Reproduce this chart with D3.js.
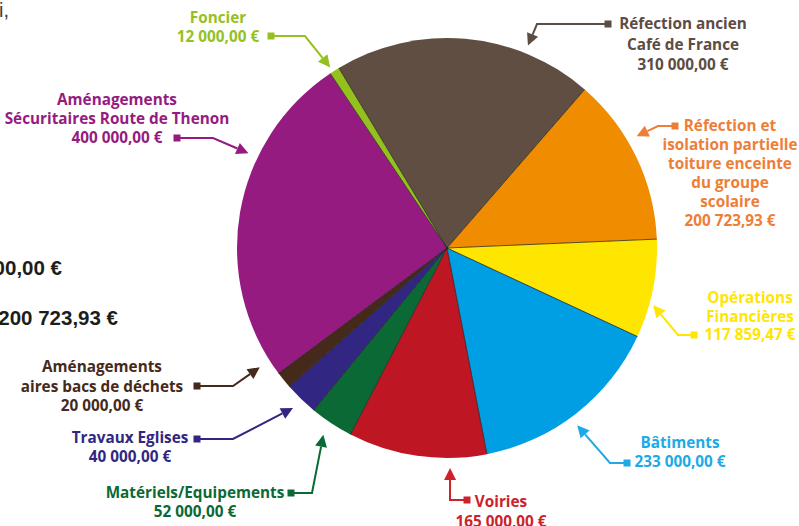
<!DOCTYPE html>
<meta charset="utf-8">
<style>
  body { margin: 0; background: #fff; }
  .lbl { font-family: "Open Sans", Lato, sans-serif; font-weight: 700; font-size: 15.3px; }
  .side { font-family: "Liberation Sans", Arial, sans-serif; font-weight: 700; font-size: 20.5px; fill: #1d1d1b; }
</style>
<script src="https://d3js.org/d3.v7.min.js"></script>
<div id="chart"></div>
<script>

  // data
  const categories = ["Réfection ancien Café de France", "Réfection et isolation partielle toiture enceinte du groupe scolaire",
    "Opérations Financières", "Bâtiments", "Voiries", "Matériels/Equipements", "Travaux Eglises",
    "Aménagements aires bacs de déchets", "Aménagements Sécuritaires Route de Thenon", "Foncier"];
  const amounts = [310000, 200723.93, 117859.47, 233000, 165000, 52000, 40000, 20000, 400000, 12000];
  const labelLines = [
    ["Réfection ancien", "Café de France"],
    ["Réfection et", "isolation partielle", "toiture enceinte", "du groupe", "scolaire"],
    ["Opérations", "Financières"],
    ["Bâtiments"],
    ["Voiries"],
    ["Matériels/Equipements"],
    ["Travaux Eglises"],
    ["Aménagements", "aires bacs de déchets"],
    ["Aménagements", "Sécuritaires Route de Thenon"],
    ["Foncier"]
  ];
  const sliceColors = ["#604e42", "#f08c00", "#ffe600", "#009fe3", "#be1622", "#0a6934", "#312783", "#452a1b", "#951b81", "#95c11f"];
  const textColors  = ["#5d4c42", "#ee7e37", "#ffe600", "#1daae6", "#cc2229", "#0a6934", "#312783", "#452a1b", "#951b81", "#95c11f"];

  const width = 799, height = 526;
  const cx = 447, cy = 248, R = 210;

  // callout layout (tip given as angle in degrees + distance from centre)
  const callouts = [
    {tipA: 21.8,  tipR: 218, elbow: [537, 24],  sq: [608, 24],  tx: 683, ty: 29,  lh: 20.5},
    {tipA: 59.5,  tipR: 220, elbow: [658, 126], sq: [675, 126], tx: 730, ty: 131, lh: 19},
    {tipA: 105.5, tipR: 214, elbow: [678, 335], sq: [694, 335], tx: 750, ty: 303, lh: 18.5},
    {tipA: 143.7, tipR: 220, elbow: [610, 463], sq: [627, 463], tx: 680, ty: 448, lh: 19},
    {tipA: 179.2, tipR: 220, elbow: [450, 500], sq: [467, 500], tx: 501, ty: 507, lh: 20},
    {tipA: 213.5, tipR: 224, elbow: [312, 493], sq: [291, 493], tx: 195, ty: 498, lh: 19},
    {tipA: 223.9, tipR: 222, elbow: [233, 439], sq: [197, 439], tx: 130, ty: 443, lh: 18.5},
    {tipA: 237.5, tipR: 222, elbow: [233, 386], sq: [197, 386], tx: 102, ty: 372, lh: 19.5},
    {tipA: 295.5, tipR: 220, elbow: [213, 138], sq: [177, 138], tx: 117, ty: 105, lh: 19},
    {tipA: -32.9, tipR: 215, elbow: [305, 36],  sq: [271, 36],  tx: 218, ty: 23,  lh: 19}
  ];

  const fr = d3.formatLocale({decimal: ",", thousands: "\u00a0", grouping: [3], currency: ["", ""]});
  const money = v => fr.format(",.2f")(v) + " €";

  const svg = d3.select("#chart").append("svg")
      .attr("width", width)
      .attr("height", height);

  // cut-off text at the left border
  svg.append("text").attr("x", -1).attr("y", 17)
      .style("font-family", "'Liberation Sans', Arial, sans-serif").style("font-size", "20px")
      .attr("fill", "#3c3c3b").text("i,");
  svg.append("text").attr("class", "side").attr("text-anchor", "end").attr("x", 62).attr("y", 275).text("00,00 €");
  svg.append("text").attr("class", "side").attr("text-anchor", "end").attr("x", 118).attr("y", 325).text("200 723,93 €");

  const start = -31 * Math.PI / 180;
  const pie = d3.pie().sort(null).value(d => d).startAngle(start).endAngle(start + 2 * Math.PI);
  const arcs = pie(amounts);
  const arc = d3.arc().innerRadius(0).outerRadius(R);

  const g = svg.append("g").attr("transform", `translate(${cx},${cy})`);

  g.selectAll("path.slice")
    .data(arcs)
    .join("path")
      .attr("class", "slice")
      .attr("d", arc)
      .attr("fill", (d, i) => sliceColors[i]);

  // thin dark separators between slices
  g.selectAll("line.sep")
    .data(arcs)
    .join("line")
      .attr("class", "sep")
      .attr("x1", 0).attr("y1", 0)
      .attr("x2", d => R * Math.sin(d.startAngle))
      .attr("y2", d => -R * Math.cos(d.startAngle))
      .attr("stroke", "#1d1d1b")
      .attr("stroke-opacity", 0.75)
      .attr("stroke-width", 1);

  // callouts
  const polar = (a, r) => [cx + r * Math.sin(a * Math.PI / 180), cy - r * Math.cos(a * Math.PI / 180)];

  callouts.forEach((c, i) => {
    const col = textColors[i];
    const tip = polar(c.tipA, c.tipR);
    const dx = tip[0] - c.elbow[0], dy = tip[1] - c.elbow[1];
    const len = Math.hypot(dx, dy), ux = dx / len, uy = dy / len;
    const headL = 12, headW = 6;
    const base = [tip[0] - ux * headL, tip[1] - uy * headL];

    svg.append("path")
      .attr("d", d3.line()([c.sq, c.elbow, base]))
      .attr("fill", "none")
      .attr("stroke", col)
      .attr("stroke-width", 2);

    svg.append("path")
      .attr("d", d3.line()([tip, [base[0] - uy * headW, base[1] + ux * headW], [base[0] + uy * headW, base[1] - ux * headW]]) + "Z")
      .attr("fill", col);

    svg.append("rect")
      .attr("x", c.sq[0] - 3.5).attr("y", c.sq[1] - 3.5)
      .attr("width", 7).attr("height", 7)
      .attr("fill", col);

    const lines = labelLines[i].concat([money(amounts[i])]);
    svg.append("text")
      .attr("class", "lbl")
      .attr("fill", col)
      .attr("text-anchor", "middle")
      .selectAll("tspan")
      .data(lines)
      .join("tspan")
        .attr("x", c.tx)
        .attr("y", (d, k) => c.ty + k * c.lh)
        .text(d => d);
  });

</script>
</html>
